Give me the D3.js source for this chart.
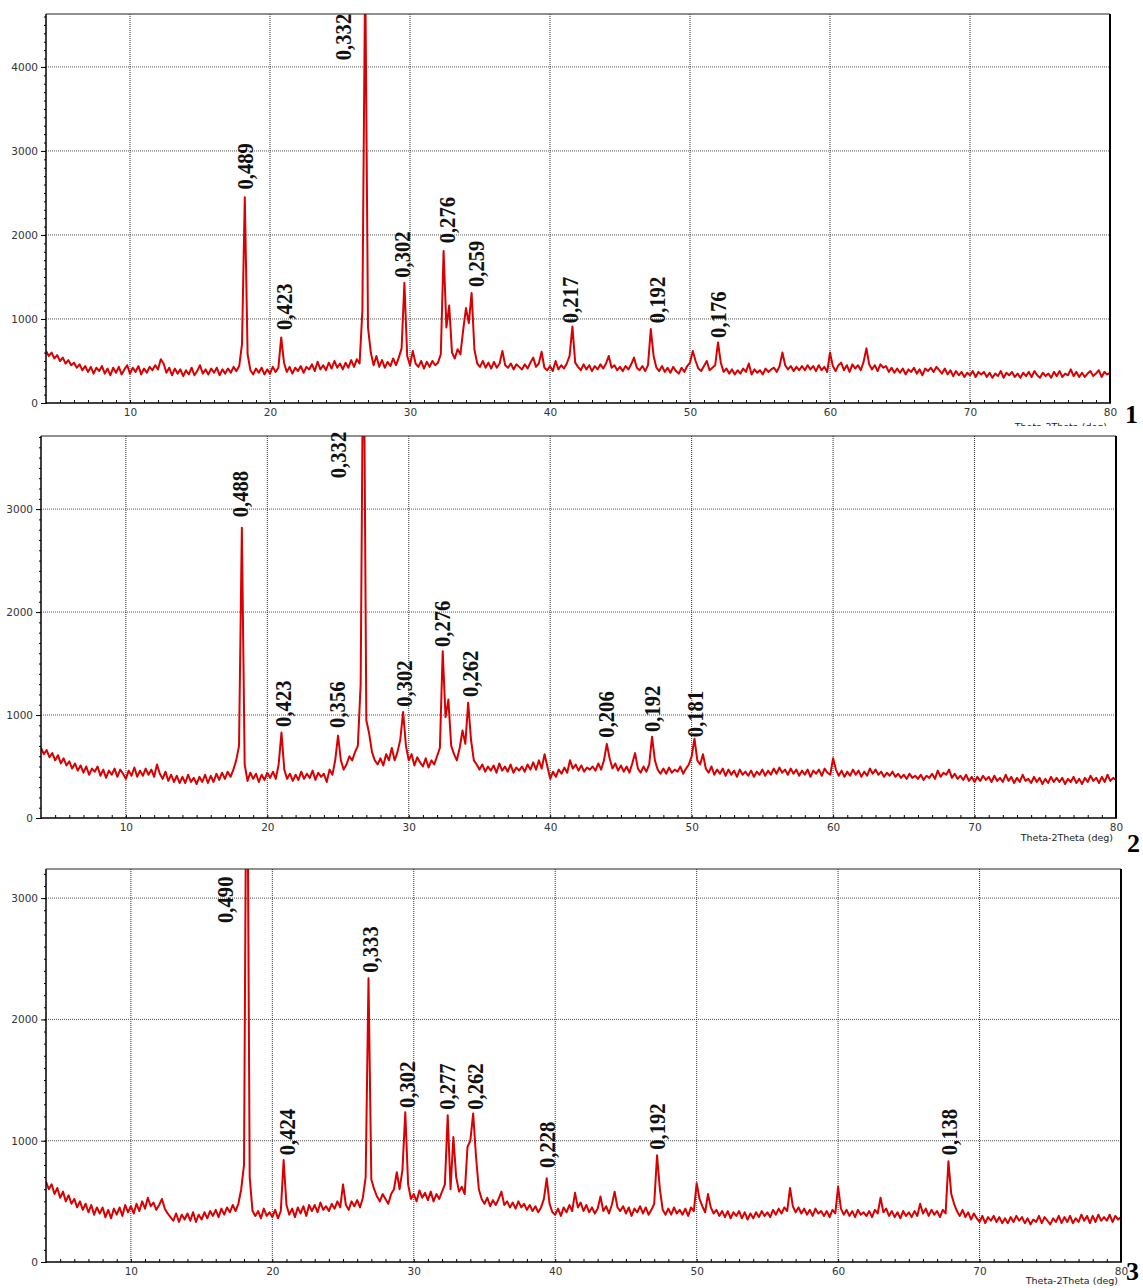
<!DOCTYPE html>
<html>
<head>
<meta charset="utf-8">
<script src="https://cdn.jsdelivr.net/npm/d3@7"></script>
<style>
  body { margin: 0; background: #fff; }
  svg { display: block; }
  .tick text { font-family: "DejaVu Sans", sans-serif; font-size: 10.5px; fill: #333; }
  .peak { font-family: "Liberation Serif", "Times New Roman", serif; font-weight: bold; font-size: 24px; fill: #111; }
  .num { font-family: "Liberation Serif", "Times New Roman", serif; font-weight: bold; font-size: 26px; fill: #000; }
  .xtitle { font-family: "DejaVu Sans", sans-serif; font-size: 9.5px; fill: #222; }
</style>
</head>
<body>
<div id="chart"></div>
<script>
// scan: 2theta from 4 to 80 deg, step 0.2 deg
var thetaStart = 4, thetaStep = 0.2;
var xTicks = [10, 20, 30, 40, 50, 60, 70, 80];
var axisTitle = "Theta-2Theta (deg)";

// sample 1 intensities (counts), one row per degree
var intensity1 = [
  620, 560, 600, 530, 570,   500, 540, 470, 510, 450,   480, 420, 460, 390, 440,   370, 430, 350, 420, 380,
  440, 350, 410, 330, 420,   360, 430, 340, 400, 450,   350, 420, 370, 440, 340,   410, 360, 430, 390, 450,
  400, 520, 470, 360, 420,   330, 410, 350, 400, 320,   390, 340, 420, 330, 380,   450, 350, 400, 340, 410,
  360, 420, 330, 400, 350,   410, 360, 430, 380, 440,   700, 2450, 580, 390, 340,  410, 360, 420, 340, 400,
  350, 430, 370, 420, 780,   480, 370, 430, 350, 420,   380, 440, 360, 430, 400,   460, 380, 490, 400, 450,
  390, 480, 410, 500, 420,   470, 400, 480, 420, 510,   430, 520, 470, 1100, 5200, 900, 600, 450, 560, 430,
  510, 420, 490, 440, 530,   450, 540, 650, 1430, 560,  450, 620, 470, 430, 500,   410, 490, 430, 500, 450,
  480, 580, 1810, 900, 1160, 600, 530, 640, 580, 870,   1130, 950, 1310, 640, 470, 430, 500, 420, 480, 410,
  490, 420, 470, 620, 450,   420, 470, 400, 460, 430,   400, 460, 410, 480, 540,   430, 470, 610, 420, 390,
  440, 380, 500, 400, 450,   410, 470, 560, 910, 480,   430, 390, 460, 400, 450,   380, 440, 400, 460, 410,
  470, 560, 420, 450, 390,   430, 380, 440, 400, 460,   540, 420, 390, 440, 380,   450, 880, 560, 420, 380,
  440, 370, 420, 360, 430,   380, 350, 420, 370, 440,   480, 620, 500, 410, 380,   440, 500, 390, 420, 450,
  720, 480, 370, 410, 350,   400, 340, 390, 350, 410,   370, 470, 340, 400, 360,   390, 340, 410, 370, 400,
  420, 370, 440, 600, 450,   400, 440, 380, 430, 390,   440, 390, 450, 400, 440,   380, 450, 390, 430, 370,
  600, 440, 380, 450, 480,   390, 450, 370, 460, 410,   450, 390, 490, 650, 460,   400, 450, 380, 460, 420,
  440, 370, 420, 360, 410,   360, 410, 340, 400, 370,   420, 350, 400, 330, 410,   380, 420, 370, 430, 390,
  350, 410, 340, 390, 320,   380, 330, 370, 310, 360,   330, 380, 310, 370, 340,   370, 310, 360, 300, 350,
  320, 380, 300, 360, 330,   370, 310, 350, 300, 360,   320, 370, 310, 380, 330,   300, 360, 320, 350, 300,
  370, 320, 380, 310, 350,   330, 400, 320, 370, 310,   360, 310, 350, 380, 320,   350, 390, 310, 370, 340,
  360
];

// sample 2
var intensity2 = [
  680, 620, 660, 590, 630,   560, 610, 530, 580, 510,   550, 480, 530, 460, 510,   440, 500, 420, 480, 450,
  500, 410, 470, 390, 460,   420, 480, 400, 470, 430,   380, 460, 410, 490, 400,   460, 410, 480, 420, 470,
  400, 520, 430, 380, 450,   360, 420, 350, 410, 340,   400, 340, 420, 350, 390,   330, 400, 350, 420, 340,
  410, 350, 430, 370, 440,   380, 450, 400, 470, 560,   700, 2820, 520, 360, 440,  380, 430, 350, 420, 370,
  440, 390, 450, 380, 520,   830, 470, 380, 430, 360,   420, 370, 450, 380, 430,   390, 460, 370, 440, 400,
  430, 350, 470, 420, 560,   800, 560, 470, 520, 600,   560, 640, 700, 1300, 5200, 950, 820, 640, 560, 520,
  580, 510, 620, 560, 680,   560, 640, 760, 1030, 700,  560, 620, 510, 590, 540,   500, 580, 490, 560, 520,
  600, 680, 1620, 980, 1150, 700, 620, 560, 680, 850,   720, 1120, 760, 560, 520,  470, 520, 450, 500, 460,
  510, 440, 530, 460, 500,   450, 520, 440, 490, 460,   500, 450, 520, 470, 540,   470, 560, 480, 620, 500,
  380, 450, 400, 470, 430,   490, 440, 560, 480, 520,   460, 510, 450, 490, 470,   500, 460, 530, 470, 560,
  720, 580, 480, 530, 460,   510, 450, 500, 440, 530,   630, 480, 440, 500, 450,   520, 790, 560, 470, 430,
  480, 430, 490, 440, 470,   450, 500, 430, 480, 520,   600, 770, 560, 520, 620,   480, 440, 500, 420, 470,
  430, 480, 410, 470, 420,   460, 400, 470, 420, 450,   410, 460, 400, 450, 420,   470, 410, 460, 420, 480,
  430, 490, 440, 470, 420,   480, 430, 470, 410, 460,   420, 470, 400, 460, 430,   470, 410, 480, 440, 420,
  580, 470, 410, 460, 400,   450, 410, 470, 420, 460,   400, 450, 410, 480, 430,   470, 420, 450, 400, 440,
  410, 450, 400, 430, 390,   420, 380, 430, 390, 410,   380, 420, 370, 410, 390,   430, 380, 460, 400, 440,
  420, 470, 390, 430, 380,   410, 370, 420, 360, 400,   350, 400, 360, 410, 370,   400, 350, 410, 360, 390,
  350, 420, 360, 400, 340,   390, 350, 420, 360, 380,   340, 400, 350, 390, 330,   380, 340, 400, 350, 390,
  350, 390, 330, 380, 350,   400, 340, 380, 330, 390,   350, 410, 360, 390, 340,   400, 350, 420, 360, 390,
  370
];

// sample 3
var intensity3 = [
  660, 600, 640, 560, 610,   530, 580, 500, 550, 480,   520, 450, 500, 430, 480,   410, 470, 390, 450, 400,
  450, 370, 430, 360, 440,   390, 450, 380, 470, 410,   460, 400, 480, 420, 500,   440, 530, 460, 490, 430,
  470, 520, 440, 400, 370,   340, 400, 330, 390, 350,   400, 340, 410, 330, 390,   350, 410, 360, 420, 380,
  430, 370, 440, 390, 450,   410, 470, 420, 480, 600,   800, 5000, 700, 420, 380,  420, 360, 440, 380, 410,
  370, 430, 360, 420, 840,   470, 390, 440, 370, 450,   400, 460, 380, 470, 420,   470, 410, 490, 430, 460,
  420, 480, 440, 500, 450,   640, 470, 430, 500, 460,   510, 450, 530, 700, 2340,  680, 600, 540, 500, 560,
  520, 480, 560, 600, 740,   600, 760, 1235, 640, 520,  560, 500, 590, 530, 570,   510, 580, 500, 560, 520,
  580, 640, 1210, 600, 1030, 700, 580, 620, 560, 950,   1000, 1225, 870, 600, 520, 480, 530, 460, 510, 470,
  520, 580, 470, 500, 450,   490, 440, 500, 450, 480,   430, 470, 420, 460, 410,   450, 520, 690, 480, 410,
  390, 440, 380, 450, 410,   470, 420, 570, 450, 490,   420, 470, 410, 450, 400,   440, 540, 420, 460, 400,
  470, 580, 450, 420, 460,   400, 450, 380, 440, 410,   460, 400, 450, 390, 430,   480, 880, 600, 430, 390,
  440, 390, 450, 400, 430,   390, 440, 380, 450, 420,   650, 520, 460, 410, 560,   450, 400, 430, 380, 420,
  370, 420, 360, 410, 380,   420, 360, 410, 350, 400,   360, 410, 370, 420, 380,   410, 370, 430, 390, 440,
  400, 450, 420, 610, 460,   410, 450, 400, 440, 390,   430, 380, 440, 400, 420,   380, 420, 370, 430, 400,
  620, 440, 390, 430, 380,   420, 370, 430, 390, 410,   380, 420, 370, 430, 400,   530, 410, 440, 380, 420,
  370, 410, 360, 420, 380,   410, 370, 420, 380, 480,   400, 440, 380, 430, 390,   420, 370, 430, 400, 830,
  560, 480, 420, 380, 430,   370, 410, 350, 400, 360,   330, 380, 320, 370, 340,   380, 330, 370, 320, 360,
  320, 370, 330, 380, 340,   370, 320, 360, 310, 350,   330, 380, 320, 370, 340,   310, 360, 330, 380, 320,
  370, 330, 380, 320, 360,   330, 390, 340, 380, 320,   380, 330, 390, 340, 370,   340, 390, 330, 380, 350,
  370
];

// peak labels: [2theta, d-spacing (nm), intensity where the label starts]
var peaks1 = [[18.15, "0,489", 2540], [21.0, "0,423", 870], [25.15, "0,332", 4080], [29.4, "0,302", 1490],
              [32.6, "0,276", 1900], [34.7, "0,259", 1380], [41.4, "0,217", 950], [47.6, "0,192", 950], [52.0, "0,176", 775]];
var peaks2 = [[18.07, "0,488", 2920], [21.05, "0,423", 885], [24.9, "0,356", 875], [25.0, "0,332", 3300], [29.6, "0,302", 1080],
              [32.3, "0,276", 1660], [34.3, "0,262", 1175], [43.9, "0,206", 780], [47.2, "0,192", 835], [50.2, "0,181", 785]];
var peaks3 = [[16.6, "0,490", 2795], [21.0, "0,424", 880], [26.9, "0,333", 2385], [29.5, "0,302", 1270], [32.35, "0,277", 1255],
              [34.3, "0,262", 1255], [39.4, "0,228", 775], [47.2, "0,192", 925], [67.8, "0,138", 880]];

var yMax1 = 4630, yMax2 = 3710, yMax3 = 3240;
var yTicks1 = [0, 1000, 2000, 3000, 4000];
var yTicks2 = [0, 1000, 2000, 3000];
var yTicks3 = [0, 1000, 2000, 3000];

// layout of the three stacked panels
var panels = [
  {data: intensity1, peaks: peaks1, yMax: yMax1, yTicks: yTicks1, name: "1",
   left: 46, right: 1110, top: 14, bottom: 403, titleY: 430, titleClip: 426, numX: 1125, numY: 423},
  {data: intensity2, peaks: peaks2, yMax: yMax2, yTicks: yTicks2, name: "2",
   left: 41, right: 1116, top: 436, bottom: 818, titleY: 841, titleClip: 860, numX: 1127, numY: 852},
  {data: intensity3, peaks: peaks3, yMax: yMax3, yTicks: yTicks3, name: "3",
   left: 46, right: 1121, top: 869, bottom: 1262, titleY: 1284, titleClip: 1288, numX: 1126, numY: 1280}
];

var svg = d3.select("#chart").append("svg")
    .attr("width", 1143)
    .attr("height", 1288);

panels.forEach(function(p, k) {
    var x = d3.scaleLinear().domain([4, 80]).range([p.left, p.right]);
    var y = d3.scaleLinear().domain([0, p.yMax]).range([p.bottom, p.top]);
    var g = svg.append("g");

    svg.append("clipPath").attr("id", "clip" + k)
      .append("rect")
        .attr("x", p.left).attr("y", p.top)
        .attr("width", p.right - p.left).attr("height", p.bottom - p.top);

    // dotted grid
    g.selectAll(".hgrid").data(p.yTicks.slice(1)).enter().append("line")
        .attr("x1", p.left).attr("x2", p.right)
        .attr("y1", function(d) { return y(d); }).attr("y2", function(d) { return y(d); })
        .attr("stroke", "#555").attr("stroke-width", 1).attr("stroke-dasharray", "1,1");
    g.selectAll(".vgrid").data(xTicks.slice(0, -1)).enter().append("line")
        .attr("y1", p.top).attr("y2", p.bottom)
        .attr("x1", function(d) { return x(d); }).attr("x2", function(d) { return x(d); })
        .attr("stroke", "#333").attr("stroke-width", 1).attr("stroke-dasharray", "1,1");

    // the scan
    var line = d3.line()
        .x(function(d, i) { return x(thetaStart + i * thetaStep); })
        .y(function(d) { return y(d); });
    g.append("path")
        .datum(p.data)
        .attr("clip-path", "url(#clip" + k + ")")
        .attr("fill", "none")
        .attr("stroke", "#d80000")
        .attr("stroke-width", 2)
        .attr("stroke-linejoin", "round")
        .attr("d", line);

    // y axis: minor ticks every 100, labels at 1000s
    g.append("g").attr("transform", "translate(" + p.left + ",0)")
        .call(d3.axisLeft(y).tickValues(d3.range(0, p.yMax, 100)).tickSize(2).tickFormat(""))
        .call(function(a) { a.select(".domain").remove(); });
    g.append("g").attr("transform", "translate(" + p.left + ",0)")
        .call(d3.axisLeft(y).tickValues(p.yTicks).tickSize(5).tickPadding(3).tickFormat(d3.format("d")))
        .call(function(a) { a.select(".domain").remove(); });

    // x axis: minor ticks every degree, labels every 10
    g.append("g").attr("transform", "translate(0," + p.bottom + ")")
        .call(d3.axisBottom(x).tickValues(d3.range(5, 80, 1)).tickSize(-3).tickFormat(""))
        .call(function(a) { a.select(".domain").remove(); });
    g.append("g").attr("transform", "translate(0," + p.bottom + ")")
        .call(d3.axisBottom(x).tickValues(xTicks).tickSize(0).tickPadding(6))
        .call(function(a) { a.select(".domain").remove(); });

    // frame
    g.append("line").attr("x1", p.left).attr("x2", p.right).attr("y1", p.top).attr("y2", p.top)
        .attr("stroke", "#222").attr("stroke-width", 1);
    g.append("line").attr("x1", p.right).attr("x2", p.right).attr("y1", p.top).attr("y2", p.bottom)
        .attr("stroke", "#000").attr("stroke-width", 2);
    g.append("line").attr("x1", p.left).attr("x2", p.left).attr("y1", p.top).attr("y2", p.bottom + 1)
        .attr("stroke", "#000").attr("stroke-width", 1.5);
    g.append("line").attr("x1", p.left).attr("x2", p.right + 1).attr("y1", p.bottom).attr("y2", p.bottom)
        .attr("stroke", "#000").attr("stroke-width", 1.5);

    // peak d-spacings, rotated
    g.selectAll(".peak").data(p.peaks).enter().append("text")
        .attr("class", "peak")
        .attr("transform", function(d) {
            return "translate(" + x(d[0]) + "," + y(d[2]) + ") rotate(-90) scale(0.86,1)";
        })
        .attr("dy", "0.35em")
        .text(function(d) { return d[1]; });

    // axis title (the first one is cut off by the next panel)
    svg.append("clipPath").attr("id", "tclip" + k)
      .append("rect").attr("x", 0).attr("y", 0).attr("width", 1143).attr("height", p.titleClip);
    g.append("text")
        .attr("class", "xtitle")
        .attr("clip-path", "url(#tclip" + k + ")")
        .attr("x", p.right - 3).attr("y", p.titleY)
        .attr("text-anchor", "end")
        .text(axisTitle);

    g.append("text")
        .attr("class", "num")
        .attr("x", p.numX).attr("y", p.numY)
        .text(p.name);
});
</script>
</body>
</html>
